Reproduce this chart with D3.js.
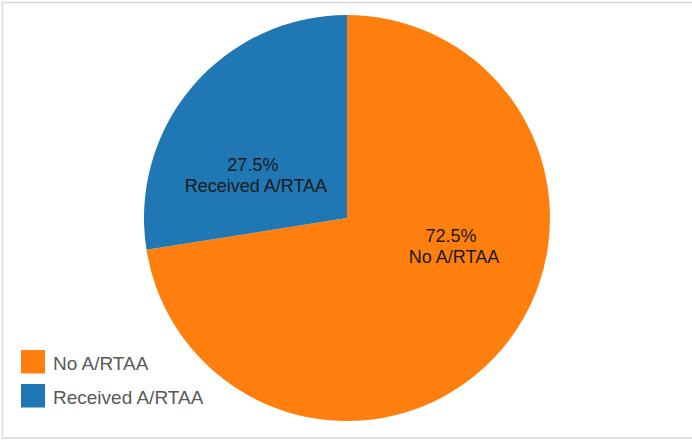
<!DOCTYPE html>
<html><head><meta charset="utf-8">
<script src="https://cdn.jsdelivr.net/npm/d3@7"></script>
<style>html,body{margin:0;padding:0;background:#fff;}svg{display:block;font-family:"Liberation Sans",Arial,sans-serif;}</style>
</head><body>
<svg id="chart" width="692" height="440"></svg>
<script>
const categories = ["No A/RTAA", "Received A/RTAA"];
const values = [72.5, 27.5];
const colors = ["#ff7f0e", "#1f77b4"];

const svg = d3.select("#chart");
svg.append("rect").attr("x", 2.5).attr("y", 2.5).attr("width", 692).attr("height", 435.5)
  .attr("fill", "#fff").attr("stroke", "#d9d9d9").attr("stroke-width", 1.5);

const cx = 347, cy = 218, R = 203;
const g = svg.append("g").attr("transform", `translate(${cx},${cy})`);
const pie = d3.pie().sort(null).value(d => d.v);
const data = categories.map((c, i) => ({c, v: values[i], col: colors[i]}));
const arcs = pie(data);
const arc = d3.arc().innerRadius(0).outerRadius(R);
g.selectAll("path").data(arcs).enter().append("path")
  .attr("d", arc).attr("fill", d => d.data.col);

// label placement: polar offset per slice (angle shift, radius)
const labelShift = [[-0.391, 111.5], [-0.332, 99]];
arcs.forEach((d, i) => {
  const a = (d.startAngle + d.endAngle) / 2 + labelShift[i][0];
  const r = labelShift[i][1];
  const x = Math.sin(a) * r, y = -Math.cos(a) * r;
  const t = g.append("text").attr("text-anchor", "middle").attr("fill", "#1a1a1a")
    .attr("font-size", 18);
  t.append("tspan").attr("x", x - 2).attr("y", y - 10.5).text(d3.format(".1f")(d.data.v) + "%");
  t.append("tspan").attr("x", x + 1).attr("y", y + 10.5).text(d.data.c);
});

const leg = svg.append("g").attr("transform", "translate(21,350)");
data.forEach((d, i) => {
  const row = leg.append("g").attr("transform", `translate(0,${i * 34})`);
  row.append("rect").attr("width", 24).attr("height", 23.5).attr("fill", d.col);
  row.append("text").attr("x", 32).attr("y", 19.5).attr("font-size", 19).attr("fill", "#595959").text(d.c);
});
</script>
</body></html>
